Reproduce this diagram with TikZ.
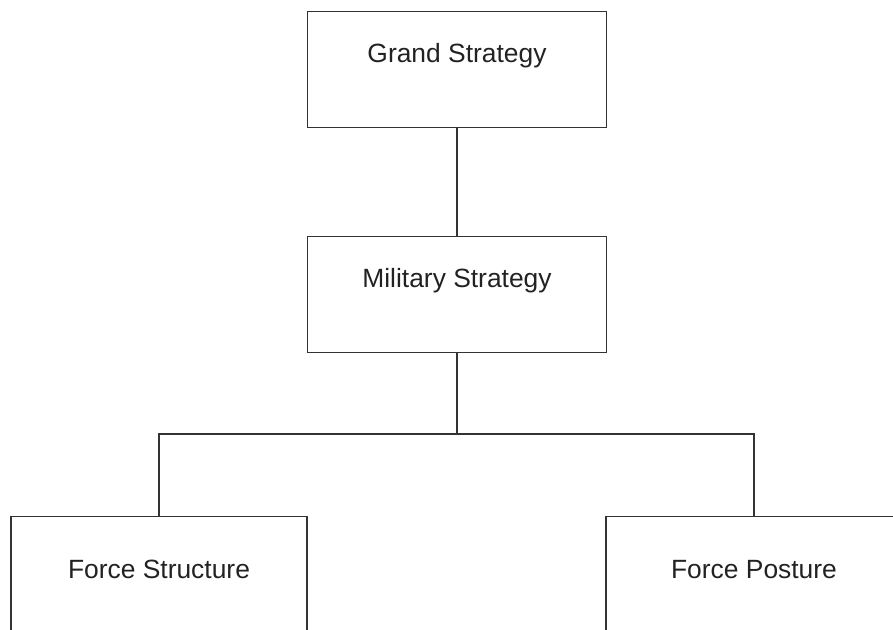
\documentclass[tikz,border=0pt]{standalone}
\usepackage{fontspec}
\setmainfont{Liberation Sans}
\usetikzlibrary{calc}
\definecolor{linegray}{HTML}{333333}
\definecolor{textgray}{HTML}{222222}
\tikzset{box/.style={draw=linegray,line width=1pt,rectangle,inner xsep=0pt,inner ysep=0pt,
        text=textgray,font=\fontsize{19.8}{24}\selectfont,anchor=north}}

\begin{document}
\begin{tikzpicture}[x=0.75pt,y=-0.75pt]
        \useasboundingbox (0,0) rectangle (893,630);
        \clip (0,0) rectangle (893,630);
        \node[box,minimum width=299*0.75pt,text height=50.5*0.75pt,text depth=65.5*0.75pt] (grand) at (457,11) {Grand Strategy};
        \node[box,minimum width=299*0.75pt,text height=50.5*0.75pt,text depth=65.5*0.75pt] (mil) at (457,236) {Military Strategy};
        \node[box,minimum width=296*0.75pt,text height=61.5*0.75pt,text depth=90*0.75pt] (fs) at (159,516) {Force Structure};
        \node[box,minimum width=296*0.75pt,text height=61.5*0.75pt,text depth=90*0.75pt] (fp) at (754,516) {Force Posture};
        \coordinate (split) at (457,434);
        \draw[linegray,line width=1pt] (grand)--(mil);
        \draw[linegray,line width=1pt] (mil.south)--(split);
        \draw[linegray,line width=1pt] (fs.north) |- (split) -| (fp.north);
    \end{tikzpicture}
\end{document}
